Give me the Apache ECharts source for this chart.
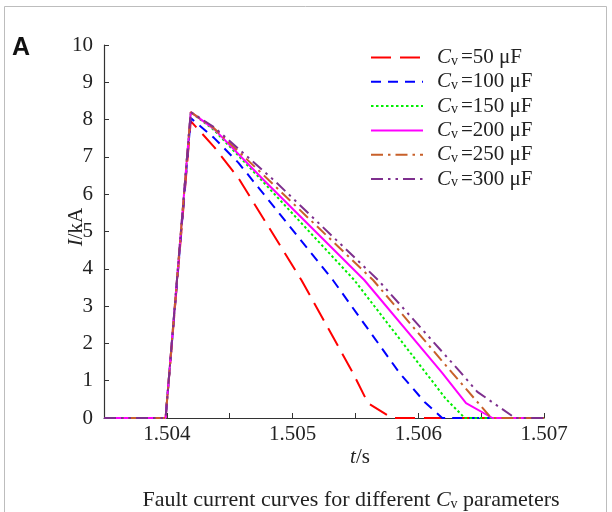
<!DOCTYPE html>
<html>
<head>
<meta charset="utf-8">
<script src="https://cdn.jsdelivr.net/npm/echarts@6/dist/echarts.min.js"></script>
<style>
html,body{margin:0;padding:0;background:#fff;}
#c{width:612px;height:512px;}
</style>
</head>
<body>
<div id="c"></div>
<script>
// ---- data (t in s, I in kA) ----
const seriesNames = ['50', '100', '150', '200', '250', '300'];
const t50  = [1.5035, 1.50399, 1.50419, 1.504375, 1.50457, 1.50507, 1.50548, 1.50560, 1.50579, 1.507];
const i50  = [0, 0, 7.96, 7.27, 6.43, 3.70, 1.21, 0.40, 0, 0];
const t100 = [1.5035, 1.50399, 1.50419, 1.504375, 1.50457, 1.50532, 1.50585, 1.50605, 1.50619, 1.507];
const i100 = [0, 0, 8.04, 7.51, 6.84, 3.70, 1.21, 0.43, 0, 0];
const t150 = [1.5035, 1.50399, 1.50419, 1.504375, 1.50473, 1.50549, 1.50606, 1.50622, 1.50637, 1.507];
const i150 = [0, 0, 8.20, 7.72, 6.46, 3.70, 1.21, 0.51, 0, 0];
const t200 = [1.5035, 1.50399, 1.50419, 1.504375, 1.50477, 1.50557, 1.50619, 1.50638, 1.50659, 1.507];
const i200 = [0, 0, 8.20, 7.75, 6.38, 3.70, 1.21, 0.40, 0, 0];
const t250 = [1.5035, 1.50399, 1.50419, 1.504375, 1.50481, 1.50564, 1.50627, 1.50658, 1.507];
const i250 = [0, 0, 8.20, 7.77, 6.38, 3.70, 1.21, 0, 0];
const t300 = [1.5035, 1.50399, 1.50419, 1.504375, 1.50485, 1.50568, 1.50634, 1.50647, 1.50677, 1.507];
const i300 = [0, 0, 8.20, 7.80, 6.38, 3.70, 1.21, 0.70, 0, 0];
const yTicks = [0, 1, 2, 3, 4, 5, 6, 7, 8, 9, 10];
const xLabels = ['1.504', '1.505', '1.506', '1.507'];

const tArr = [t50, t100, t150, t200, t250, t300];
const iArr = [i50, i100, i150, i200, i250, i300];
const colors = ['#ff0000', '#0000ff', '#00ee00', '#ff00ff', '#c8602a', '#7e2f8e'];
const dashes = [[20, 9], [10, 7], [2.5, 2.5], 'solid', [12, 5, 2.5, 5], [12, 5, 2.5, 5, 2.5, 5]];

const serif = '"Liberation Serif","DejaVu Serif",serif';

const series = seriesNames.map((n, k) => ({
  name: n,
  type: 'line',
  symbol: 'none',
  data: tArr[k].map((t, j) => [t, iArr[k][j]]),
  lineStyle: { color: colors[k], width: 2, type: dashes[k] },
  itemStyle: { color: colors[k] },
  z: 2 + k,
  animation: false
}));

const chart = echarts.init(document.getElementById('c'), null, { renderer: 'canvas' });
chart.setOption({
  animation: false,
  backgroundColor: '#fff',
  grid: { left: 104, right: 68, top: 45, bottom: 94, containLabel: false },
  xAxis: {
    type: 'value', min: 1.5035, max: 1.507, interval: 0.0005,
    axisLine: { show: true, lineStyle: { color: '#333', width: 1.2 } },
    axisTick: { show: true, inside: true, length: 5, lineStyle: { color: '#333' } },
    splitLine: { show: false },
    axisLabel: {
      margin: 6, color: '#222', fontFamily: serif, fontSize: 21,
      formatter: function (v) {
        const lab = v.toFixed(3);
        return (Math.abs(v * 1000 - Math.round(v * 1000)) < 1e-6 && xLabels.indexOf(lab) >= 0) ? lab : '';
      }
    }
  },
  yAxis: {
    type: 'value', min: 0, max: 10, interval: 1,
    axisLine: { show: true, lineStyle: { color: '#333', width: 1.2 } },
    axisTick: { show: true, inside: true, length: 5, lineStyle: { color: '#333' } },
    splitLine: { show: false },
    axisLabel: {
      margin: 11, color: '#222', fontFamily: serif, fontSize: 21,
      formatter: function (v) { return yTicks.indexOf(v) >= 0 ? String(v) : ''; }
    }
  },
  legend: {
    orient: 'vertical', left: 370, top: 45, padding: 0,
    itemWidth: 52, itemHeight: 21, itemGap: 1.3,
    data: seriesNames,
    itemStyle: { opacity: 0 },
    formatter: function (n) { return '{i|C}{s|v}{n|=' + n + ' μF}'; },
    textStyle: {
      color: '#222', fontFamily: serif, fontSize: 21, padding: [0, 0, 0, 9],
      rich: {
        i: { fontFamily: serif, fontSize: 21, fontStyle: 'italic', color: '#222', lineHeight: 21 },
        s: { fontFamily: serif, fontSize: 14, color: '#222', verticalAlign: 'bottom', padding: [9, 3, 0, 0], lineHeight: 21 },
        n: { fontFamily: serif, fontSize: 21, color: '#222', lineHeight: 21 }
      }
    },
    selectedMode: false
  },
  series: series,
  graphic: [
    { type: 'rect', shape: { x: 4.5, y: 6.5, width: 602, height: 520 }, style: { fill: 'none', stroke: '#bdbdbd', lineWidth: 1 }, silent: true, z: 0 },
    { type: 'text', left: 12, top: 36, style: { text: 'A', font: 'bold 25px "Liberation Sans", Arial, sans-serif', fill: '#111' } },
    { type: 'text', x: 76, y: 227, rotation: Math.PI / 2,
      style: {
        text: '{i|I}{n|/kA}', align: 'center', verticalAlign: 'middle',
        rich: {
          i: { fontFamily: serif, fontSize: 21, fontStyle: 'italic', fill: '#222' },
          n: { fontFamily: serif, fontSize: 21, fill: '#222' }
        }
      } },
    { type: 'text', x: 360, y: 457,
      style: {
        text: '{i|t}{n|/s}', align: 'center', verticalAlign: 'middle',
        rich: {
          i: { fontFamily: serif, fontSize: 21, fontStyle: 'italic', fill: '#222' },
          n: { fontFamily: serif, fontSize: 21, fill: '#222' }
        }
      } },
    { type: 'text', x: 351, y: 500,
      style: {
        text: '{n|Fault current curves for different }{i|C}{s|v}{n| parameters}', align: 'center', verticalAlign: 'middle',
        rich: {
          n: { fontFamily: serif, fontSize: 22, fill: '#222' },
          i: { fontFamily: serif, fontSize: 22, fontStyle: 'italic', fill: '#222' },
          s: { fontFamily: serif, fontSize: 14, fill: '#222', padding: [9, 0, 0, 0] }
        }
      } }
  ]
});
</script>
</body>
</html>
